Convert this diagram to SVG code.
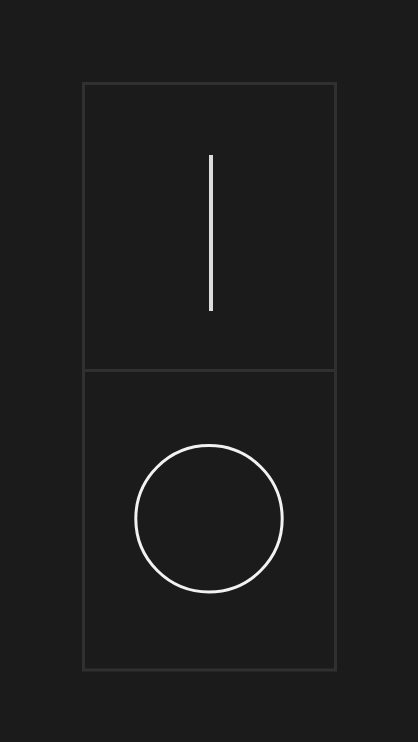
<svg xmlns="http://www.w3.org/2000/svg" width="418" height="742" viewBox="0 0 418 742">
<style>
.frame{fill:none;stroke:#303030;stroke-width:3}
</style>
<rect width="418" height="742" fill="#1b1b1b"/>
<g id="switch">
<rect class="frame" x="83.5" y="83.5" width="252" height="586.5"/>
<line class="frame" x1="83.5" y1="370.5" x2="335.5" y2="370.5"/>
</g>
<g id="on">
<line x1="211" y1="155" x2="211" y2="311" stroke="#dcdcdc" stroke-width="4"/>
</g>
<g id="off">
<circle cx="209" cy="518.8" r="73.2" fill="none" stroke="#f2f2f2" stroke-width="3"/>
</g>
</svg>
